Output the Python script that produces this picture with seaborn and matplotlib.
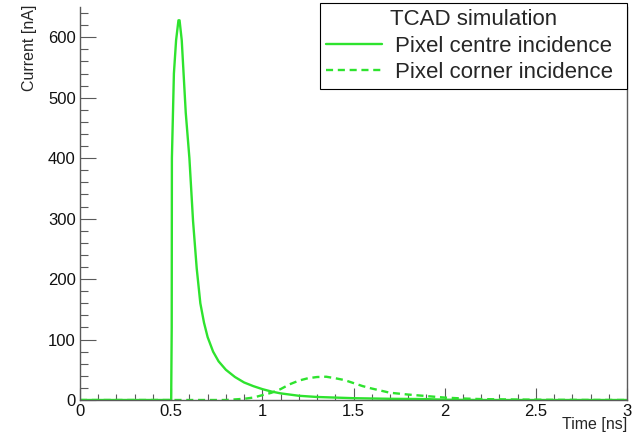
import numpy as np
import pandas as pd
import matplotlib
matplotlib.use("Agg")
import matplotlib.pyplot as plt
from matplotlib.ticker import MultipleLocator
import seaborn as sns

# ---- data ----
centre_t = [0.0, 0.50, 0.503, 0.504, 0.515, 0.527, 0.540, 0.546, 0.558, 0.580, 0.600,
            0.620, 0.640, 0.660, 0.680, 0.700, 0.730, 0.760, 0.800, 0.850, 0.900,
            0.950, 1.000, 1.050, 1.100, 1.200, 1.300, 1.400, 1.500, 1.700, 1.900,
            2.000, 2.200, 3.000]
centre_i = [0.0, 0.0, 120.0, 400.0, 540.0, 595.0, 628.0, 628.0, 595.0, 475.0, 400.0,
            296.0, 218.0, 160.0, 128.0, 104.0, 80.0, 64.0, 50.0, 38.0, 29.0,
            23.0, 18.0, 14.0, 11.0, 7.0, 5.0, 4.0, 3.0, 2.0, 1.5,
            0.5, 0.0, 0.0]

corner_t = [0.0, 0.80, 0.85, 0.90, 0.95, 1.00, 1.05, 1.10, 1.15, 1.20, 1.25, 1.30,
            1.35, 1.40, 1.45, 1.50, 1.55, 1.60, 1.70, 1.80, 1.90, 2.00, 2.10,
            2.20, 2.40, 2.60, 3.00]
corner_i = [0.0, 0.0, 1.0, 2.0, 4.0, 8.0, 12.0, 18.0, 26.0, 32.0, 36.0, 38.0,
            38.5, 36.0, 33.0, 28.0, 23.0, 19.0, 12.0, 9.0, 6.5, 4.0, 2.5,
            1.5, 0.8, 0.3, 0.0]

series_names = ["Pixel centre incidence", "Pixel corner incidence"]
legend_title = "TCAD simulation"
x_label = "Time [ns]"
y_label = "Current [nA]"

# ---- style ----
sns.set_style("white")
plt.rcParams["font.family"] = ["Liberation Sans", "DejaVu Sans"]

GREEN = "#2ee32e"
AXC = "#5a5a5a"

fig = plt.figure(figsize=(6.32, 4.36), dpi=100)
ax = fig.add_axes([80 / 632, 1 - 400 / 436, 547 / 632, 393 / 436])

df_c = pd.DataFrame({"t": centre_t, "i": centre_i})
df_k = pd.DataFrame({"t": corner_t, "i": corner_i})

sns.lineplot(data=df_k, x="t", y="i", ax=ax, sort=False, estimator=None,
             color=GREEN, lw=1.7, dashes=False, linestyle=(0, (3, 2)),
             label=series_names[1])
sns.lineplot(data=df_c, x="t", y="i", ax=ax, sort=False, estimator=None,
             color=GREEN, lw=1.7, label=series_names[0])

ax.set_xlim(0, 3)
ax.set_ylim(0, 650)

ax.xaxis.set_major_locator(MultipleLocator(0.5))
ax.xaxis.set_minor_locator(MultipleLocator(0.1))
ax.yaxis.set_major_locator(MultipleLocator(100))
ax.yaxis.set_minor_locator(MultipleLocator(20))
ax.set_xticks([0, 0.5, 1, 1.5, 2, 2.5, 3])
ax.set_xticklabels(["0", "0.5", "1", "1.5", "2", "2.5", "3"])

ax.tick_params(axis="x", which="major", direction="in", length=8.6, width=0.8,
               color=AXC, labelsize=12, pad=3, labelcolor="#111111")
ax.tick_params(axis="x", which="minor", direction="in", length=4.2, width=0.8, color=AXC)
ax.tick_params(axis="y", which="major", direction="in", length=11.5, width=0.8,
               color=AXC, labelsize=12, pad=3, labelcolor="#111111")
ax.tick_params(axis="y", which="minor", direction="in", length=5.8, width=0.8, color=AXC)
ax.tick_params(bottom=True, left=True, which="both")

for s in ["left", "bottom", "right"]:
    ax.spines[s].set_visible(True)
    ax.spines[s].set_color(AXC)
    ax.spines[s].set_linewidth(1.0)
ax.spines["top"].set_visible(False)

ax.set_xlabel(x_label, fontsize=11.5, loc="right")
ax.xaxis.set_label_coords(1.0, -0.042)
ax.set_ylabel(y_label, fontsize=11.5, loc="top")
ax.yaxis.set_label_coords(-0.079, 1.005)

# legend: centre first
h, l = ax.get_legend_handles_labels()
order = [l.index(series_names[0]), l.index(series_names[1])]
leg = fig.legend([h[i] for i in order], [l[i] for i in order], title=legend_title,
                 loc="upper left",
                 bbox_to_anchor=(320 / 632, 1 - 88 / 436, 307 / 632, 85 / 436),
                 mode="expand",
                 fontsize=16, title_fontsize=16, frameon=True, fancybox=False,
                 edgecolor="black", framealpha=1, borderaxespad=0,
                 handlelength=2.5, handletextpad=0.6, labelspacing=0.24,
                 borderpad=0.28)
leg.get_frame().set_linewidth(0.8)
ax.get_legend().remove()

fig.savefig("out.png", dpi=100)
